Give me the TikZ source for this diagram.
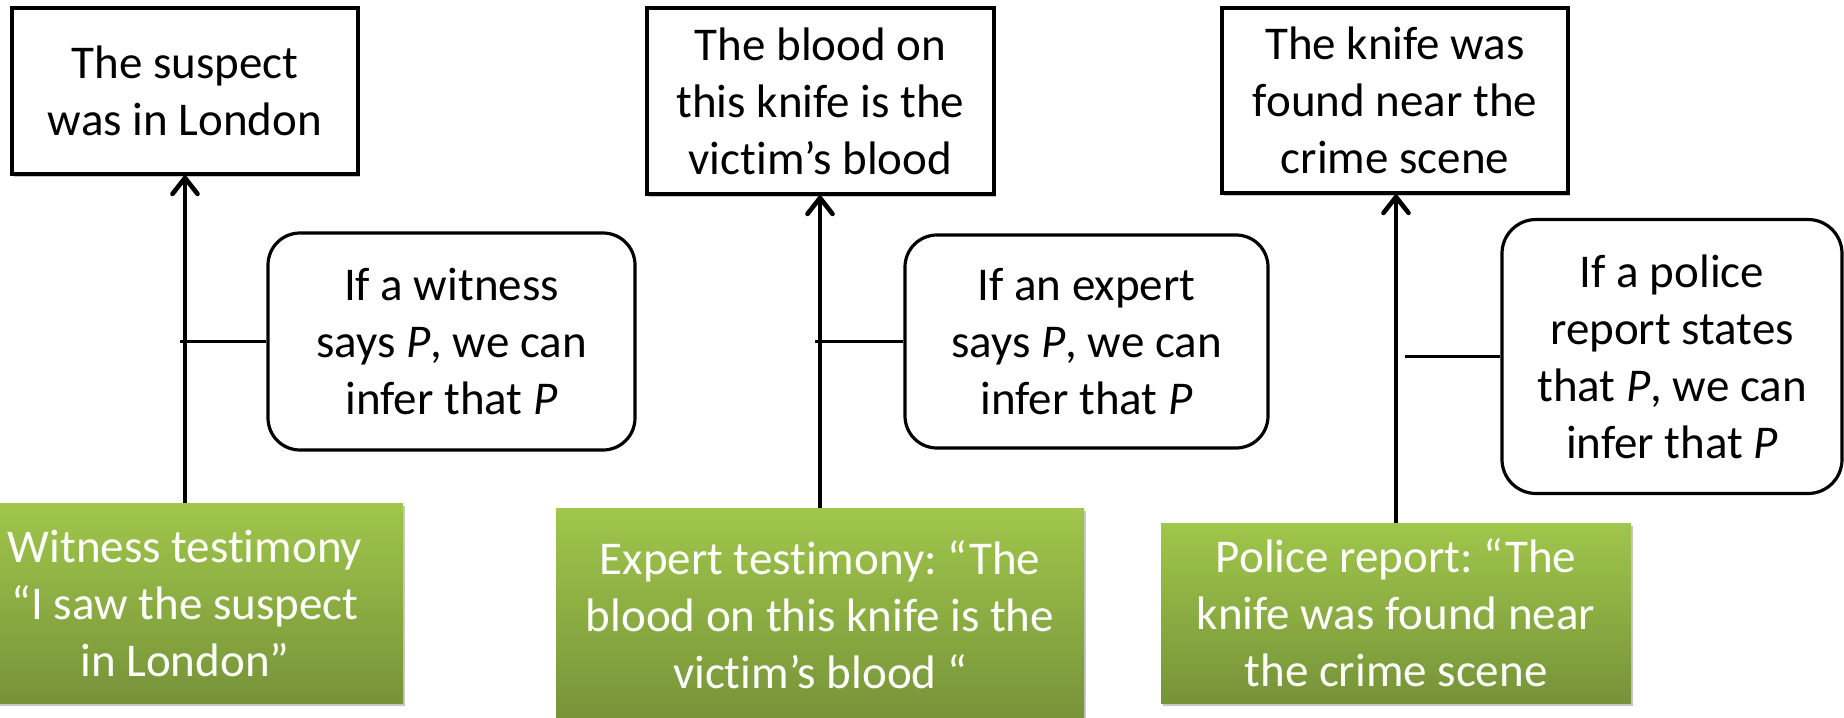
\documentclass[tikz,border=0pt]{standalone}
\usepackage{fontspec}
\setmainfont{Carlito}[Ligatures={NoCommon}]
\usetikzlibrary{arrows.meta,shadows}
\definecolor{gtop}{RGB}{160,198,75}
\definecolor{gbot}{RGB}{118,147,57}
\frenchspacing
\begin{document}
\begin{tikzpicture}[x=0.5pt,y=-0.5pt,
  txt/.style={font=\fontsize{23.5pt}{28.5pt}\selectfont, align=center, inner sep=0pt},
  boxshadow/.style={drop shadow={shadow xshift=1pt,shadow yshift=-1.6pt,opacity=0.22,fill=black}},
  claim/.style={txt, draw=black, line width=1.6pt, fill=white, boxshadow},
  warrant/.style={txt, draw=black, line width=1.6pt, fill=white, rounded corners=16pt},
  datum/.style={txt, text=white, top color=gtop, bottom color=gbot, boxshadow},
  link/.style={line width=1.6pt},
  support/.style={link, -{Straight Barb[length=8pt,width=12.5pt,line width=2.3pt,round]}},
]
\useasboundingbox (0,0) rectangle (1844,718);
\clip (0,0) rectangle (1844,718);

% conclusions
\node[claim, minimum width=173pt, minimum height=83pt] (c1) at (185,91)
  {The suspect\\was in London};
\node[claim, minimum width=173.5pt, minimum height=93pt] (c2) at (820.5,101)
  {The blood on\\this knife is the\\victim’s blood};
\node[claim, minimum width=173pt, minimum height=92.5pt] (c3) at (1395,100.5)
  {The knife was\\found near the\\crime scene};

% inference rules
\node[warrant, minimum width=183.5pt, minimum height=108.5pt] (w1) at (451.5,341.5)
  {If a witness\\says \textit{P}, we can\\infer that \textit{P}};
\node[warrant, minimum width=181.5pt, minimum height=106.5pt] (w2) at (1086.5,341.5)
  {If an expert\\says \textit{P}, we can\\infer that \textit{P}};
\node[warrant, minimum width=170pt, minimum height=137pt, rounded corners=17pt] (w3) at (1672,356.5)
  {If a police\\report states\\that \textit{P}, we can\\infer that \textit{P}};

% evidence
\node[datum, minimum width=218pt, minimum height=100pt] (g1) at (185,603)
  {Witness testimony\\“I saw the suspect\\in London”};
\node[datum, minimum width=264pt, minimum height=107pt] (g2) at (820,615)
  {Expert testimony: “The\\blood on this knife is the\\victim’s blood “};
\node[datum, minimum width=235pt, minimum height=90pt] (g3) at (1396,613)
  {Police report: “The\\knife was found near\\the crime scene};

% support arrows
\draw[support] (g1.north) -- (g1.north |- c1.south);
\draw[support] (g2.north) -- (g2.north |- c2.south);
\draw[support] (g3.north) -- (g3.north |- c3.south);

% rule attachments
\coordinate (j1) at (180,341.5);
\coordinate (j2) at (815,341.5);
\coordinate (j3) at (1405,356.5);
\draw[link] (w1.west) -- (j1);
\draw[link] (w2.west) -- (j2);
\draw[link] (w3.west) -- (j3);
\end{tikzpicture}
\end{document}
